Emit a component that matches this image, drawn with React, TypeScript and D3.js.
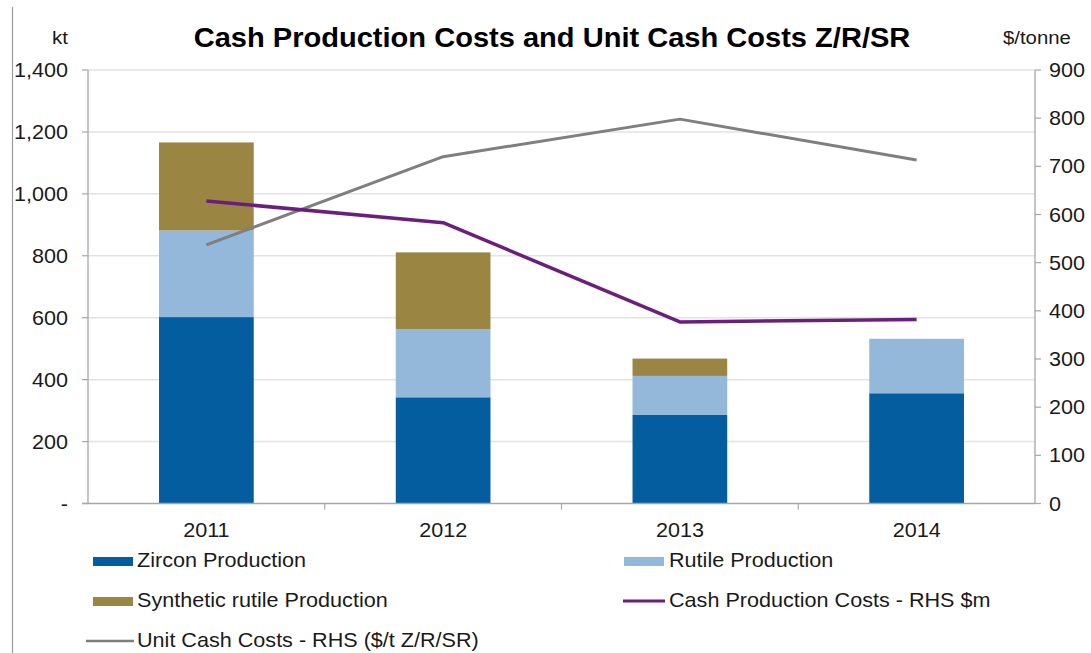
import React from "react";
import * as d3 from "d3";

const years = ["2011", "2012", "2013", "2014"];
const zircon = [602, 343, 286, 356];
const rutile = [280, 220, 126, 176];
const syntheticRutile = [284, 248, 56, 0];
const cashProductionCosts = [628, 583, 377, 382];
const unitCashCosts = [537, 720, 798, 713];
const leftTicks = [0, 200, 400, 600, 800, 1000, 1200, 1400];
const rightTicks = [0, 100, 200, 300, 400, 500, 600, 700, 800, 900];

const seriesNames = [
  "Zircon Production",
  "Rutile Production",
  "Synthetic rutile Production",
  "Cash Production Costs - RHS $m",
  "Unit Cash Costs - RHS ($/t Z/R/SR)",
];
const colors = ["#045d9f", "#93b8d9", "#9b8542", "#6b1f7c", "#7f7f7f"];

const W = 1091;
const H = 653;
const PL = 88;
const PR = 1035;
const PT = 70;
const PB = 503.5;
const FONT = "'Liberation Sans', Arial, sans-serif";

function T(props: {
  x: number;
  y: number;
  children: React.ReactNode;
  anchor?: string;
  size?: number;
  sx?: number;
  weight?: string;
  fill?: string;
}) {
  const { x, y, children, anchor = "start", size = 20, sx = 1.08, weight = "normal", fill = "#1a1a1a" } = props;
  return (
    <text
      transform={`translate(${x},${y}) scale(${sx},1)`}
      textAnchor={anchor}
      fontSize={size}
      fontWeight={weight}
      fontFamily={FONT}
      fill={fill}
    >
      {children}
    </text>
  );
}

export default function App() {
  const x = d3.scaleBand<string>().domain(years).range([PL, PR]).paddingInner(0.6).paddingOuter(0.3);
  const yL = d3.scaleLinear().domain([0, 1400]).range([PB, PT]);
  const yR = d3.scaleLinear().domain([0, 900]).range([PB, PT]);

  const stacked = years.map((yr, i) => ({ yr, vals: [zircon[i], rutile[i], syntheticRutile[i]] }));
  const stack = d3
    .stack<any>()
    .keys(["0", "1", "2"])
    .value((d: any, k: string) => d.vals[+k]);
  const layers = stack(stacked as any);

  const cx = (yr: string) => (x(yr) as number) + x.bandwidth() / 2;
  const lineGen = (vals: number[]) =>
    d3
      .line<number>()
      .x((_, i) => cx(years[i]))
      .y((v) => yR(v))(vals) as string;

  const step = x.step();
  const boundaries = [1, 2, 3].map((i) => (x(years[i]) as number) - (step - x.bandwidth()) / 2);

  const fmtL = (v: number) => (v === 0 ? "-" : d3.format(",")(v));

  return (
    <svg width={W} height={H} style={{ position: "absolute", left: 0, top: 0, background: "#fff" }}>
      <rect x={0} y={0} width={W} height={H} fill="#fff" />
      {/* left frame line */}
      <line x1={12.5} x2={12.5} y1={7} y2={H} stroke="#9a9a9a" strokeWidth={1.2} />

      {/* gridlines */}
      {leftTicks.slice(1).map((t) => (
        <line key={"g" + t} x1={PL} x2={PR} y1={yL(t)} y2={yL(t)} stroke="#e3e3e3" strokeWidth={1.5} />
      ))}

      {/* bars */}
      {layers.map((layer, li) =>
        layer.map((d, i) => (
          <rect
            key={`b${li}-${i}`}
            x={x(years[i]) as number}
            width={x.bandwidth()}
            y={yL(d[1])}
            height={Math.max(0, yL(d[0]) - yL(d[1]))}
            fill={colors[li]}
          />
        ))
      )}

      {/* axes */}
      <line x1={PL} x2={PL} y1={PT} y2={PB} stroke="#a6a6a6" strokeWidth={1.3} />
      <line x1={PR} x2={PR} y1={PT} y2={PB} stroke="#a6a6a6" strokeWidth={1.3} />
      <line x1={PL - 6} x2={PR} y1={PB} y2={PB} stroke="#a6a6a6" strokeWidth={1.5} />
      {leftTicks.map((t) => (
        <line key={"lt" + t} x1={PL - 6} x2={PL} y1={yL(t)} y2={yL(t)} stroke="#a6a6a6" strokeWidth={1.2} />
      ))}
      {rightTicks.map((t) => (
        <line key={"rt" + t} x1={PR} x2={PR + 6} y1={yR(t)} y2={yR(t)} stroke="#a6a6a6" strokeWidth={1.2} />
      ))}
      {boundaries.map((b, i) => (
        <line key={"bt" + i} x1={b} x2={b} y1={PB} y2={PB + 6} stroke="#a6a6a6" strokeWidth={1.2} />
      ))}

      {/* lines */}
      <path d={lineGen(unitCashCosts)} fill="none" stroke={colors[4]} strokeWidth={3} strokeLinejoin="round" />
      <path d={lineGen(cashProductionCosts)} fill="none" stroke={colors[3]} strokeWidth={3.5} strokeLinejoin="round" />

      {/* tick labels */}
      {leftTicks.map((t) => (
        <T key={"ll" + t} x={68} y={yL(t) + 7} anchor="end">
          {fmtL(t)}
        </T>
      ))}
      {rightTicks.map((t) => (
        <T key={"rl" + t} x={1049} y={yR(t) + 7}>
          {String(t)}
        </T>
      ))}
      {years.map((yr) => (
        <T key={"xl" + yr} x={cx(yr)} y={537} anchor="middle">
          {yr}
        </T>
      ))}

      {/* titles */}
      <T x={552} y={46.5} anchor="middle" size={28.5} sx={1.02} weight="bold" fill="#000">
        Cash Production Costs and Unit Cash Costs Z/R/SR
      </T>
      <T x={68} y={44} anchor="end" size={19}>
        kt
      </T>
      <T x={1003} y={44} size={18.5} sx={1.1}>
        $/tonne
      </T>

      {/* legend */}
      <rect x={93} y={557} width={40} height={9} fill={colors[0]} />
      <T x={137} y={567}>{seriesNames[0]}</T>
      <rect x={624} y={557} width={40} height={9} fill={colors[1]} />
      <T x={669} y={567}>{seriesNames[1]}</T>
      <rect x={93} y={597} width={40} height={9} fill={colors[2]} />
      <T x={137} y={607}>{seriesNames[2]}</T>
      <line x1={623} x2={665} y1={641} y2={641} stroke={colors[3]} strokeWidth={3} transform="translate(0,-40)" />
      <T x={669} y={607}>{seriesNames[3]}</T>
      <line x1={86} x2={134} y1={641} y2={641} stroke={colors[4]} strokeWidth={2.5} />
      <T x={137} y={647}>{seriesNames[4]}</T>
    </svg>
  );
}
